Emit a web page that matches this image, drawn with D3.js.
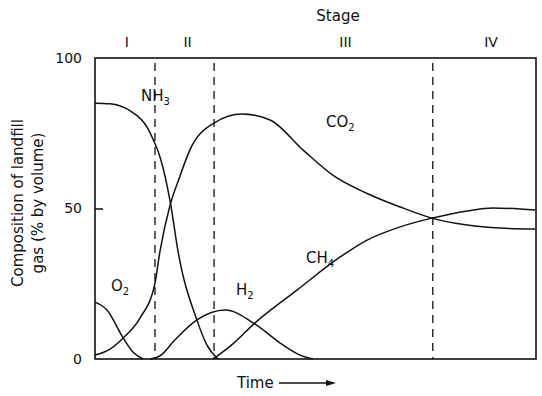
<!DOCTYPE html>
<html>
<head>
<meta charset="utf-8">
<script src="https://cdn.jsdelivr.net/npm/d3@7"></script>
<style>
  body { margin: 0; background: white; }
  svg text { font-family: "DejaVu Sans", sans-serif; fill: #111; }
</style>
</head>
<body>
<svg id="chart" width="542" height="396"></svg>
<script>
// readings, time in arbitrary units 0-100
const nh3Time  = [0, 3.4, 7.9, 11.8, 13.6, 14.3, 17.2, 18.8, 23.1, 25.4, 27.9]
const nh3Value = [85, 84.8, 82.5, 77, 71.5, 69, 51, 36, 13, 4.6, 0]

const co2Time  = [0, 3.4, 6.4, 10.2, 13.6, 14.7, 17, 19.2, 21.5, 27, 33.3, 39.7, 47.2, 54, 61.7, 69.2, 76.4, 84.4, 91.8, 99.8]
const co2Value = [1.3, 3.3, 7, 13.6, 25.2, 35.5, 51, 60.5, 69.4, 78.4, 81.4, 79.4, 69.4, 61, 55, 50.5, 46.8, 44.5, 43.5, 43.2]

const o2Time  = [0, 2.7, 6.4, 8.6, 10.9]
const o2Value = [18.9, 16.3, 7, 2.3, 0]

const h2Time  = [12.5, 14.7, 18.1, 23.1, 29.5, 36.3, 42, 46.5, 49.4]
const h2Value = [0, 1, 6.3, 13, 16.3, 11.6, 5.3, 1.3, 0]

const ch4Time  = [26.8, 31, 36.3, 45.8, 55.6, 61.7, 69.2, 76.4, 84.4, 90.2, 99.8]
const ch4Value = [0, 4.7, 12, 22.9, 33.9, 39.5, 43.9, 46.8, 49.2, 50.2, 49.5]

const stageBounds = [13.6, 27, 76.6]
const stageLabels = ['I', 'II', 'III', 'IV']
const stageLabelTime = [7.2, 21, 56.8, 89.8]
const yTicks = [0, 50, 100]

const svg = d3.select('#chart')
const plotLeft = 95, plotRight = 536, plotTop = 58, plotBottom = 359

const x = d3.scaleLinear().domain([0, 100]).range([plotLeft, plotRight])
const y = d3.scaleLinear().domain([0, 100]).range([plotBottom, plotTop])

function zip(ts, vs){
    return ts.map((t, i) => [t, vs[i]])
}

const line = d3.line()
    .x(d => x(d[0]))
    .y(d => y(d[1]))
    .curve(d3.curveMonotoneX)

// frame
svg.append('rect')
    .attr('x', plotLeft).attr('y', plotTop)
    .attr('width', plotRight - plotLeft).attr('height', plotBottom - plotTop)
    .style('fill', 'none')
    .style('stroke', '#111')
    .style('stroke-width', 1.6)

// left axis, tick only drawn inward
const yAxis = d3.axisLeft(y)
    .tickValues(yTicks)
    .tickSize(-8)
    .tickPadding(13)
    .tickFormat(d3.format('d'))

const yAxisG = svg.append('g')
    .attr('transform', 'translate(' + plotLeft + ',0)')
    .call(yAxis)
yAxisG.select('.domain').remove()
yAxisG.selectAll('.tick line')
    .style('stroke', '#111')
    .style('stroke-width', d => d == 50 ? 1.5 : 0)
yAxisG.selectAll('.tick text')
    .style('font-size', '14px')
    .style('font-family', '"DejaVu Sans", sans-serif')
    .style('fill', '#111')

// stage dividers
svg.selectAll('.stage-line')
    .data(stageBounds)
    .enter()
    .append('line')
    .attr('class', 'stage-line')
    .attr('x1', d => x(d)).attr('x2', d => x(d))
    .attr('y1', plotTop + 5).attr('y2', plotBottom)
    .style('stroke', '#111')
    .style('stroke-width', 1.3)
    .style('stroke-dasharray', '8,6')

svg.selectAll('.stage-label')
    .data(stageLabels)
    .enter()
    .append('text')
    .attr('class', 'stage-label')
    .attr('x', (d, i) => x(stageLabelTime[i]))
    .attr('y', 47)
    .attr('text-anchor', 'middle')
    .style('font-size', '14px')
    .text(d => d)

svg.append('text')
    .attr('x', 338).attr('y', 21)
    .attr('text-anchor', 'middle')
    .style('font-size', '15px')
    .text('Stage')

// gas curves
const series = [
    zip(nh3Time, nh3Value),
    zip(co2Time, co2Value),
    zip(o2Time, o2Value),
    zip(h2Time, h2Value),
    zip(ch4Time, ch4Value)
]

svg.selectAll('.gas-line')
    .data(series)
    .enter()
    .append('path')
    .attr('class', 'gas-line')
    .attr('d', d => line(d))
    .style('fill', 'none')
    .style('stroke', '#111')
    .style('stroke-width', 1.5)

// curve labels with subscripts
const gasLabels = [
    {name: 'NH', sub: '3', x: 141, y: 101},
    {name: 'CO', sub: '2', x: 326, y: 127},
    {name: 'O', sub: '2', x: 111, y: 291},
    {name: 'H', sub: '2', x: 236, y: 295},
    {name: 'CH', sub: '4', x: 306, y: 263}
]

gasLabels.forEach(function(g){
    const t = svg.append('text')
        .attr('x', g.x).attr('y', g.y)
        .style('font-size', '15px')
    t.append('tspan').text(g.name)
    t.append('tspan')
        .attr('dy', 4)
        .style('font-size', '10px')
        .text(g.sub)
})

// axis titles
const yTitle = svg.append('text')
    .attr('transform', 'translate(23,203) rotate(-90)')
    .attr('text-anchor', 'middle')
    .style('font-size', '15px')
yTitle.append('tspan').attr('x', 0).attr('dy', 0).text('Composition of landfill')
yTitle.append('tspan').attr('x', 0).attr('dy', 20).text('gas (% by volume)')

svg.append('text')
    .attr('x', 237).attr('y', 388)
    .style('font-size', '15px')
    .text('Time')

svg.append('line')
    .attr('x1', 279).attr('x2', 328)
    .attr('y1', 383).attr('y2', 383)
    .style('stroke', '#111')
    .style('stroke-width', 1.3)

svg.append('path')
    .attr('d', 'M336,383 L326,380 L326,386 Z')
    .style('fill', '#111')
</script>
</body>
</html>
